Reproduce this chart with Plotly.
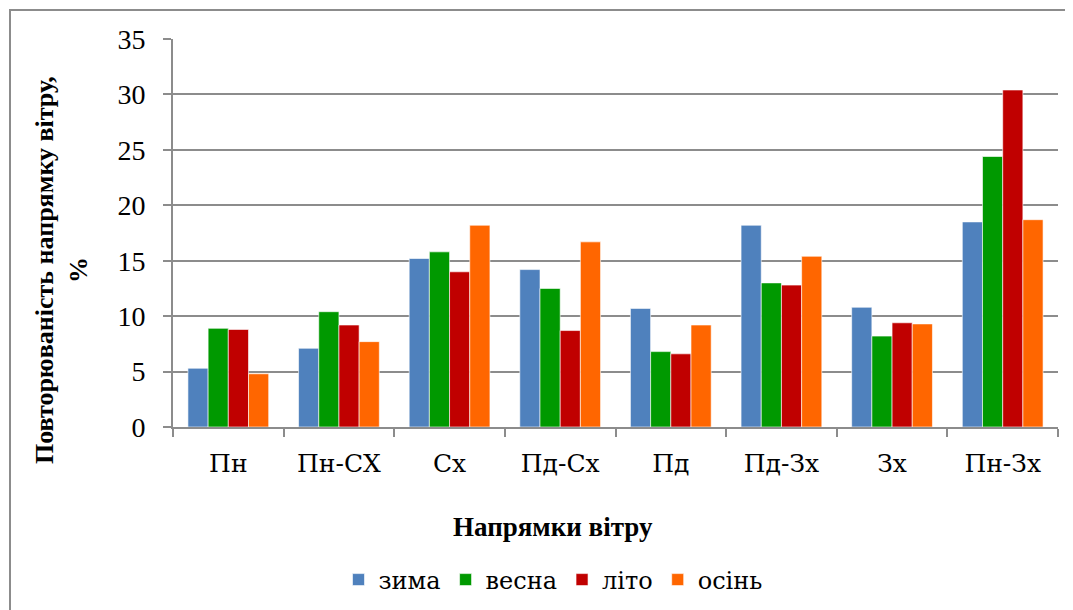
"""Clustered bar chart: wind direction frequency by season."""

import plotly.graph_objects as go

directions = ["Пн", "Пн-СХ", "Сх", "Пд-Сх", "Пд", "Пд-Зх", "Зх", "Пн-Зх"]
winter = [5.3, 7.1, 15.2, 14.2, 10.7, 18.2, 10.8, 18.5]
spring = [8.9, 10.4, 15.8, 12.5, 6.8, 13.0, 8.2, 24.4]
summer = [8.8, 9.2, 14.0, 8.7, 6.6, 12.8, 9.4, 30.4]
autumn = [4.8, 7.7, 18.2, 16.7, 9.2, 15.4, 9.3, 18.7]
season_names = ["зима", "весна", "літо", "осінь"]
y_ticks = [0, 5, 10, 15, 20, 25, 30, 35]

SERIES_COLORS = ["#4F81BD", "#009900", "#C00000", "#FF6600"]
# Liberation Serif regular has no Cyrillic here, so Cyrillic labels use DejaVu Serif
FONT = "Liberation Serif, DejaVu Serif, serif"
CYR_FONT = "DejaVu Serif, serif"
GRID = "#8C8C8C"

# page body has an 8px margin, so lay out in window pixels minus 8
OFF = 8
W, H = 1073 - OFF, 610 - OFF
L, R, T, B = 173 - OFF, 15, 39 - OFF, 183
PW, PH = W - L - R, H - T - B


def px_x(x):
    return (x - OFF - L) / PW


def px_y(y):
    return 1 - (y - OFF - T) / PH


fig = go.Figure()
for name, vals, color in zip(season_names, [winter, spring, summer, autumn], SERIES_COLORS):
    fig.add_trace(
        go.Bar(
            x=directions,
            y=vals,
            name=name,
            marker=dict(color=color, line=dict(color="rgba(255,255,255,0.6)", width=1)),
        )
    )

fig.update_layout(
    width=W,
    height=H,
    margin=dict(l=L, r=R, t=T, b=B, autoexpand=False),
    plot_bgcolor="#FFFFFF",
    paper_bgcolor="#FFFFFF",
    font=dict(family=FONT, color="#000000", size=28),
    barmode="group",
    bargap=0.27,
    bargroupgap=0,
    showlegend=True,
    legend=dict(
        orientation="h",
        x=px_x(553),
        xanchor="center",
        y=px_y(580),
        yanchor="middle",
        font=dict(family=CYR_FONT, size=24),
        itemwidth=30,
        traceorder="normal",
    ),
    xaxis=dict(
        showline=True,
        linecolor=GRID,
        linewidth=2,
        ticks="outside",
        tickson="boundaries",
        ticklen=8,
        tickcolor=GRID,
        tickwidth=2,
        ticklabelstandoff=13,
        tickfont=dict(family=CYR_FONT, size=25),
    ),
    yaxis=dict(
        range=[0, 35],
        tickvals=y_ticks,
        showline=True,
        linecolor=GRID,
        linewidth=2,
        showgrid=True,
        gridcolor=GRID,
        gridwidth=2,
        ticks="outside",
        ticklen=8,
        tickcolor=GRID,
        tickwidth=2,
        ticklabelstandoff=12,
        tickfont=dict(family=FONT, size=28),
        zeroline=False,
    ),
    shapes=[
        dict(
            type="rect",
            xref="paper",
            yref="paper",
            x0=px_x(10),
            x1=px_x(1072),
            y0=px_y(650),
            y1=px_y(10),
            line=dict(color="#8C8C8C", width=2),
            fillcolor="rgba(0,0,0,0)",
            layer="below",
        )
    ],
    annotations=[
        dict(
            text="<b>Повторюваність напрямку вітру,<br>%</b>",
            xref="paper",
            yref="paper",
            x=px_x(61),
            y=px_y(270),
            xanchor="center",
            yanchor="middle",
            textangle=-90,
            showarrow=False,
            font=dict(family=FONT, size=26),
            align="center",
        ),
        dict(
            text="<b>Напрямки вітру</b>",
            xref="paper",
            yref="paper",
            x=px_x(553),
            y=px_y(527),
            xanchor="center",
            yanchor="middle",
            showarrow=False,
            font=dict(family=FONT, size=27),
        ),
        dict(
            text="<i>періодом року)</i>",
            xref="paper",
            yref="paper",
            x=px_x(60),
            y=px_y(6),
            xanchor="left",
            yanchor="bottom",
            showarrow=False,
            font=dict(family=FONT, size=28),
        ),
    ],
)

fig.write_html("out.html")
